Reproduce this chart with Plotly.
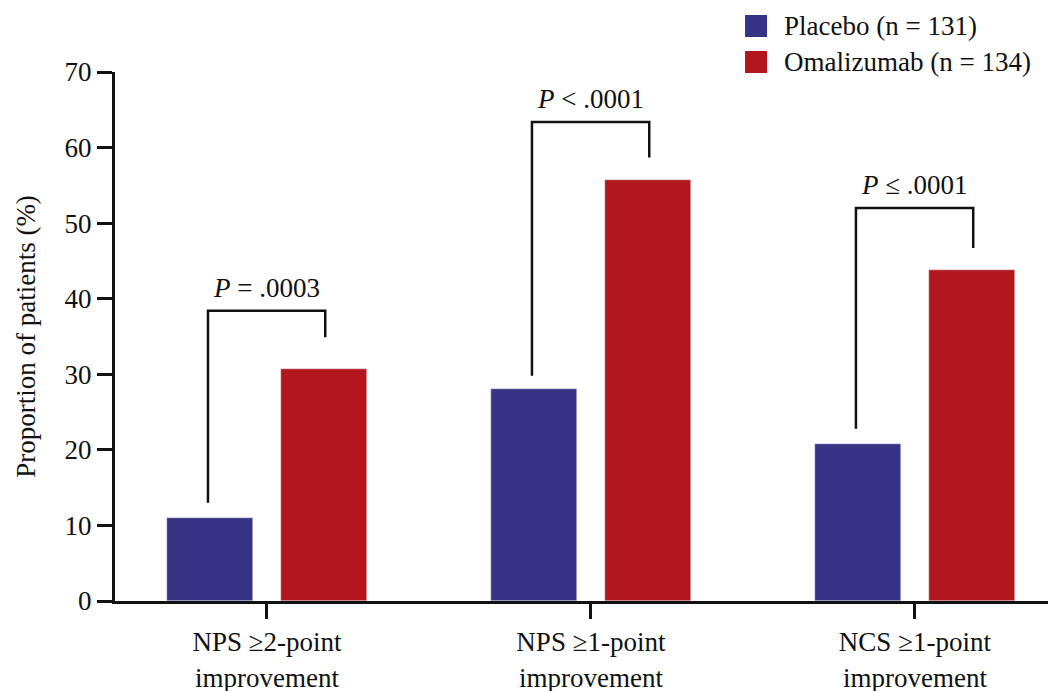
import plotly.graph_objects as go

categories = ["NPS ≥2-point<br>improvement", "NPS ≥1-point<br>improvement", "NCS ≥1-point<br>improvement"]
placebo = [11.0, 28.1, 20.8]
omalizumab = [30.7, 55.7, 43.8]
series_names = ["Placebo (n = 131)", "Omalizumab (n = 134)"]
p_labels = ["<i>P</i> = .0003", "<i>P</i> < .0001", "<i>P</i> ≤ .0001"]
bracket_left_low = [13.0, 29.8, 22.8]
bracket_top = [38.4, 63.4, 52.0]
bracket_right_low = [34.9, 58.7, 46.7]
y_ticks = [0, 10, 20, 30, 40, 50, 60, 70]

C_PLA = "#363384"
C_OMA = "#B1171D"
FONT = "Liberation Serif"
FS = 27

xs = list(range(len(categories)))
fig = go.Figure()
fig.add_trace(go.Bar(x=xs, y=placebo, name=series_names[0], marker_color=C_PLA,
                     width=0.265, offset=-0.309, showlegend=False))
fig.add_trace(go.Bar(x=xs, y=omalizumab, name=series_names[1], marker_color=C_OMA,
                     width=0.265, offset=0.044, showlegend=False))

for i in xs:
    xl, xr = i - 0.182, i + 0.18
    fig.add_trace(go.Scatter(x=[xl, xl, xr, xr],
                             y=[bracket_left_low[i], bracket_top[i], bracket_top[i], bracket_right_low[i]],
                             mode="lines", line=dict(color="#111111", width=2.5),
                             showlegend=False, hoverinfo="skip"))
    fig.add_annotation(x=i, y=bracket_top[i], text=p_labels[i], showarrow=False,
                       xref="x", yref="y", yanchor="bottom", yshift=6,
                       font=dict(family=FONT, size=FS, color="#111111"))

# manual legend
leg_y = [1.0870, 1.0189]
for name, col, yy in zip(series_names, [C_PLA, C_OMA], leg_y):
    fig.add_shape(type="rect", xref="paper", yref="paper", xsizemode="pixel", ysizemode="pixel",
                  xanchor=0.6856, yanchor=yy, x0=-11, x1=11, y0=-11, y1=11,
                  fillcolor=col, line=dict(width=0))
    fig.add_annotation(x=0.7144, y=yy, xref="paper", yref="paper", text=name, showarrow=False,
                       xanchor="left", yanchor="middle", borderpad=0,
                       font=dict(family=FONT, size=FS, color="#111111"))

fig.update_layout(
    width=1048, height=683,
    margin=dict(l=107, r=6, t=64, b=90, autoexpand=False),
    plot_bgcolor="white", paper_bgcolor="white",
    font=dict(family=FONT, size=FS, color="#111111"),
    bargap=0,
    xaxis=dict(range=[-0.469, 2.417], tickvals=xs, ticktext=categories,
               showline=True, linecolor="#111111", linewidth=3,
               ticks="outside", ticklen=15, tickwidth=3, tickcolor="#111111",
               showgrid=False, zeroline=False, fixedrange=True),
    yaxis=dict(range=[0, 70], tickvals=y_ticks,
               showline=True, linecolor="#111111", linewidth=3,
               ticks="outside", ticklen=15, tickwidth=3, tickcolor="#111111",
               showgrid=False, zeroline=False,
               title=dict(text="Proportion of patients (%)", standoff=22,
                          font=dict(family=FONT, size=FS))),
)
fig.write_html("out.html")
